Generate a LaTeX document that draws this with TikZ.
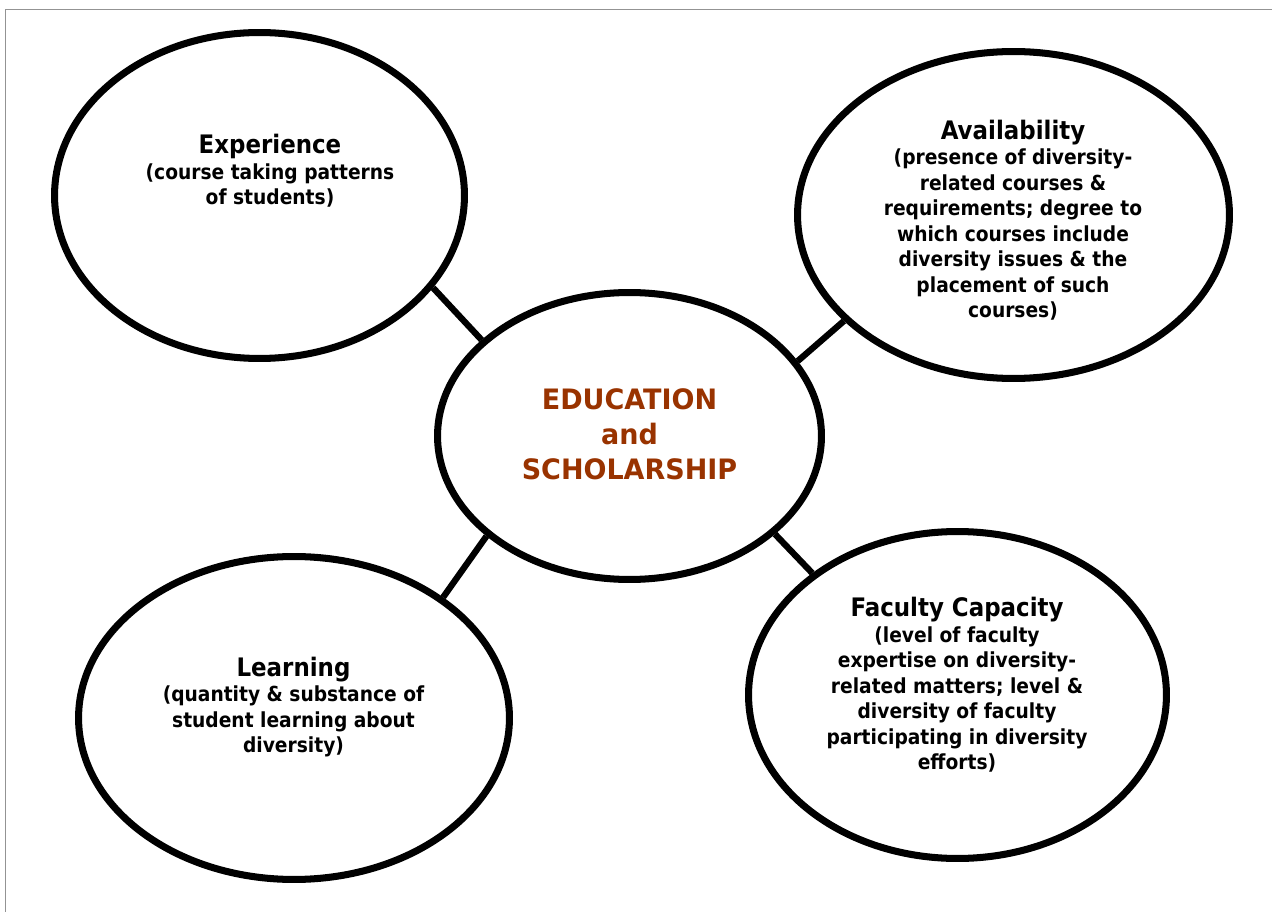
\documentclass[tikz,border=0pt]{standalone}
\usepackage{fontspec}
\setmainfont{DejaVu Sans}[FakeStretch=0.9]
\newfontfamily\hubfont{DejaVu Sans}[FakeStretch=0.96]
\usetikzlibrary{shapes.geometric}
\definecolor{hubred}{HTML}{993300}

\begin{document}
\begin{tikzpicture}[
    x=0.02cm, y=-0.02cm,
    bubble/.style={draw, ellipse, line width=4pt, inner sep=0pt},
    blurb/.style={align=center, inner sep=0pt, font=\bfseries\fontsize{11.8}{14.5}\selectfont},
    hubtext/.style={align=center, inner sep=0pt, text=hubred, font=\hubfont\bfseries\fontsize{16}{20}\selectfont},
    link/.style={line width=3.6pt}
]
\newcommand{\heading}[1]{{\fontsize{14.5}{15.4}\selectfont #1}}
\useasboundingbox (0,0) rectangle (1272,912);
% page frame, only the top and left edges show
\draw[gray!85, line width=0.8pt] (5.5,912) -- (5.5,9.3) -- (1272,9.3);

% the hub and its four areas
\node[bubble, minimum width=7.68cm, minimum height=5.74cm] (edu) at (629.5,436) {};
\node[bubble, minimum width=8.2cm, minimum height=6.52cm] (exp) at (259.5,195.5) {};
\node[bubble, minimum width=8.64cm, minimum height=6.54cm] (avail) at (1013.5,215) {};
\node[bubble, minimum width=8.62cm, minimum height=6.46cm] (learn) at (294,718) {};
\node[bubble, minimum width=8.36cm, minimum height=6.54cm] (fac) at (957.5,695) {};

\node[hubtext] (edu-txt) at (629.5,434) {EDUCATION\\and\\SCHOLARSHIP};
\node[blurb] (exp-txt) at (270,171) {\heading{Experience}\\(course taking patterns\\of students)};
\node[blurb] (avail-txt) at (1013,220) {\heading{Availability}\\(presence of diversity-\\related courses \&\\requirements; degree to\\which courses include\\diversity issues \& the\\placement of such\\courses)};
\node[blurb] (learn-txt) at (293.5,707) {\heading{Learning}\\(quantity \& substance of\\student learning about\\diversity)};
\node[blurb] (fac-txt) at (957,685) {\heading{Faculty Capacity}\\(level of faculty\\expertise on diversity-\\related matters; level \&\\diversity of faculty\\participating in diversity\\efforts)};

% spokes
\draw[link] (exp.-28) -- (edu.147);
\draw[link] (avail.-148) -- (edu.24);
\draw[link] (learn.39) -- (edu.-145);
\draw[link] (fac.140) -- (edu.-34);
\end{tikzpicture}
\end{document}
